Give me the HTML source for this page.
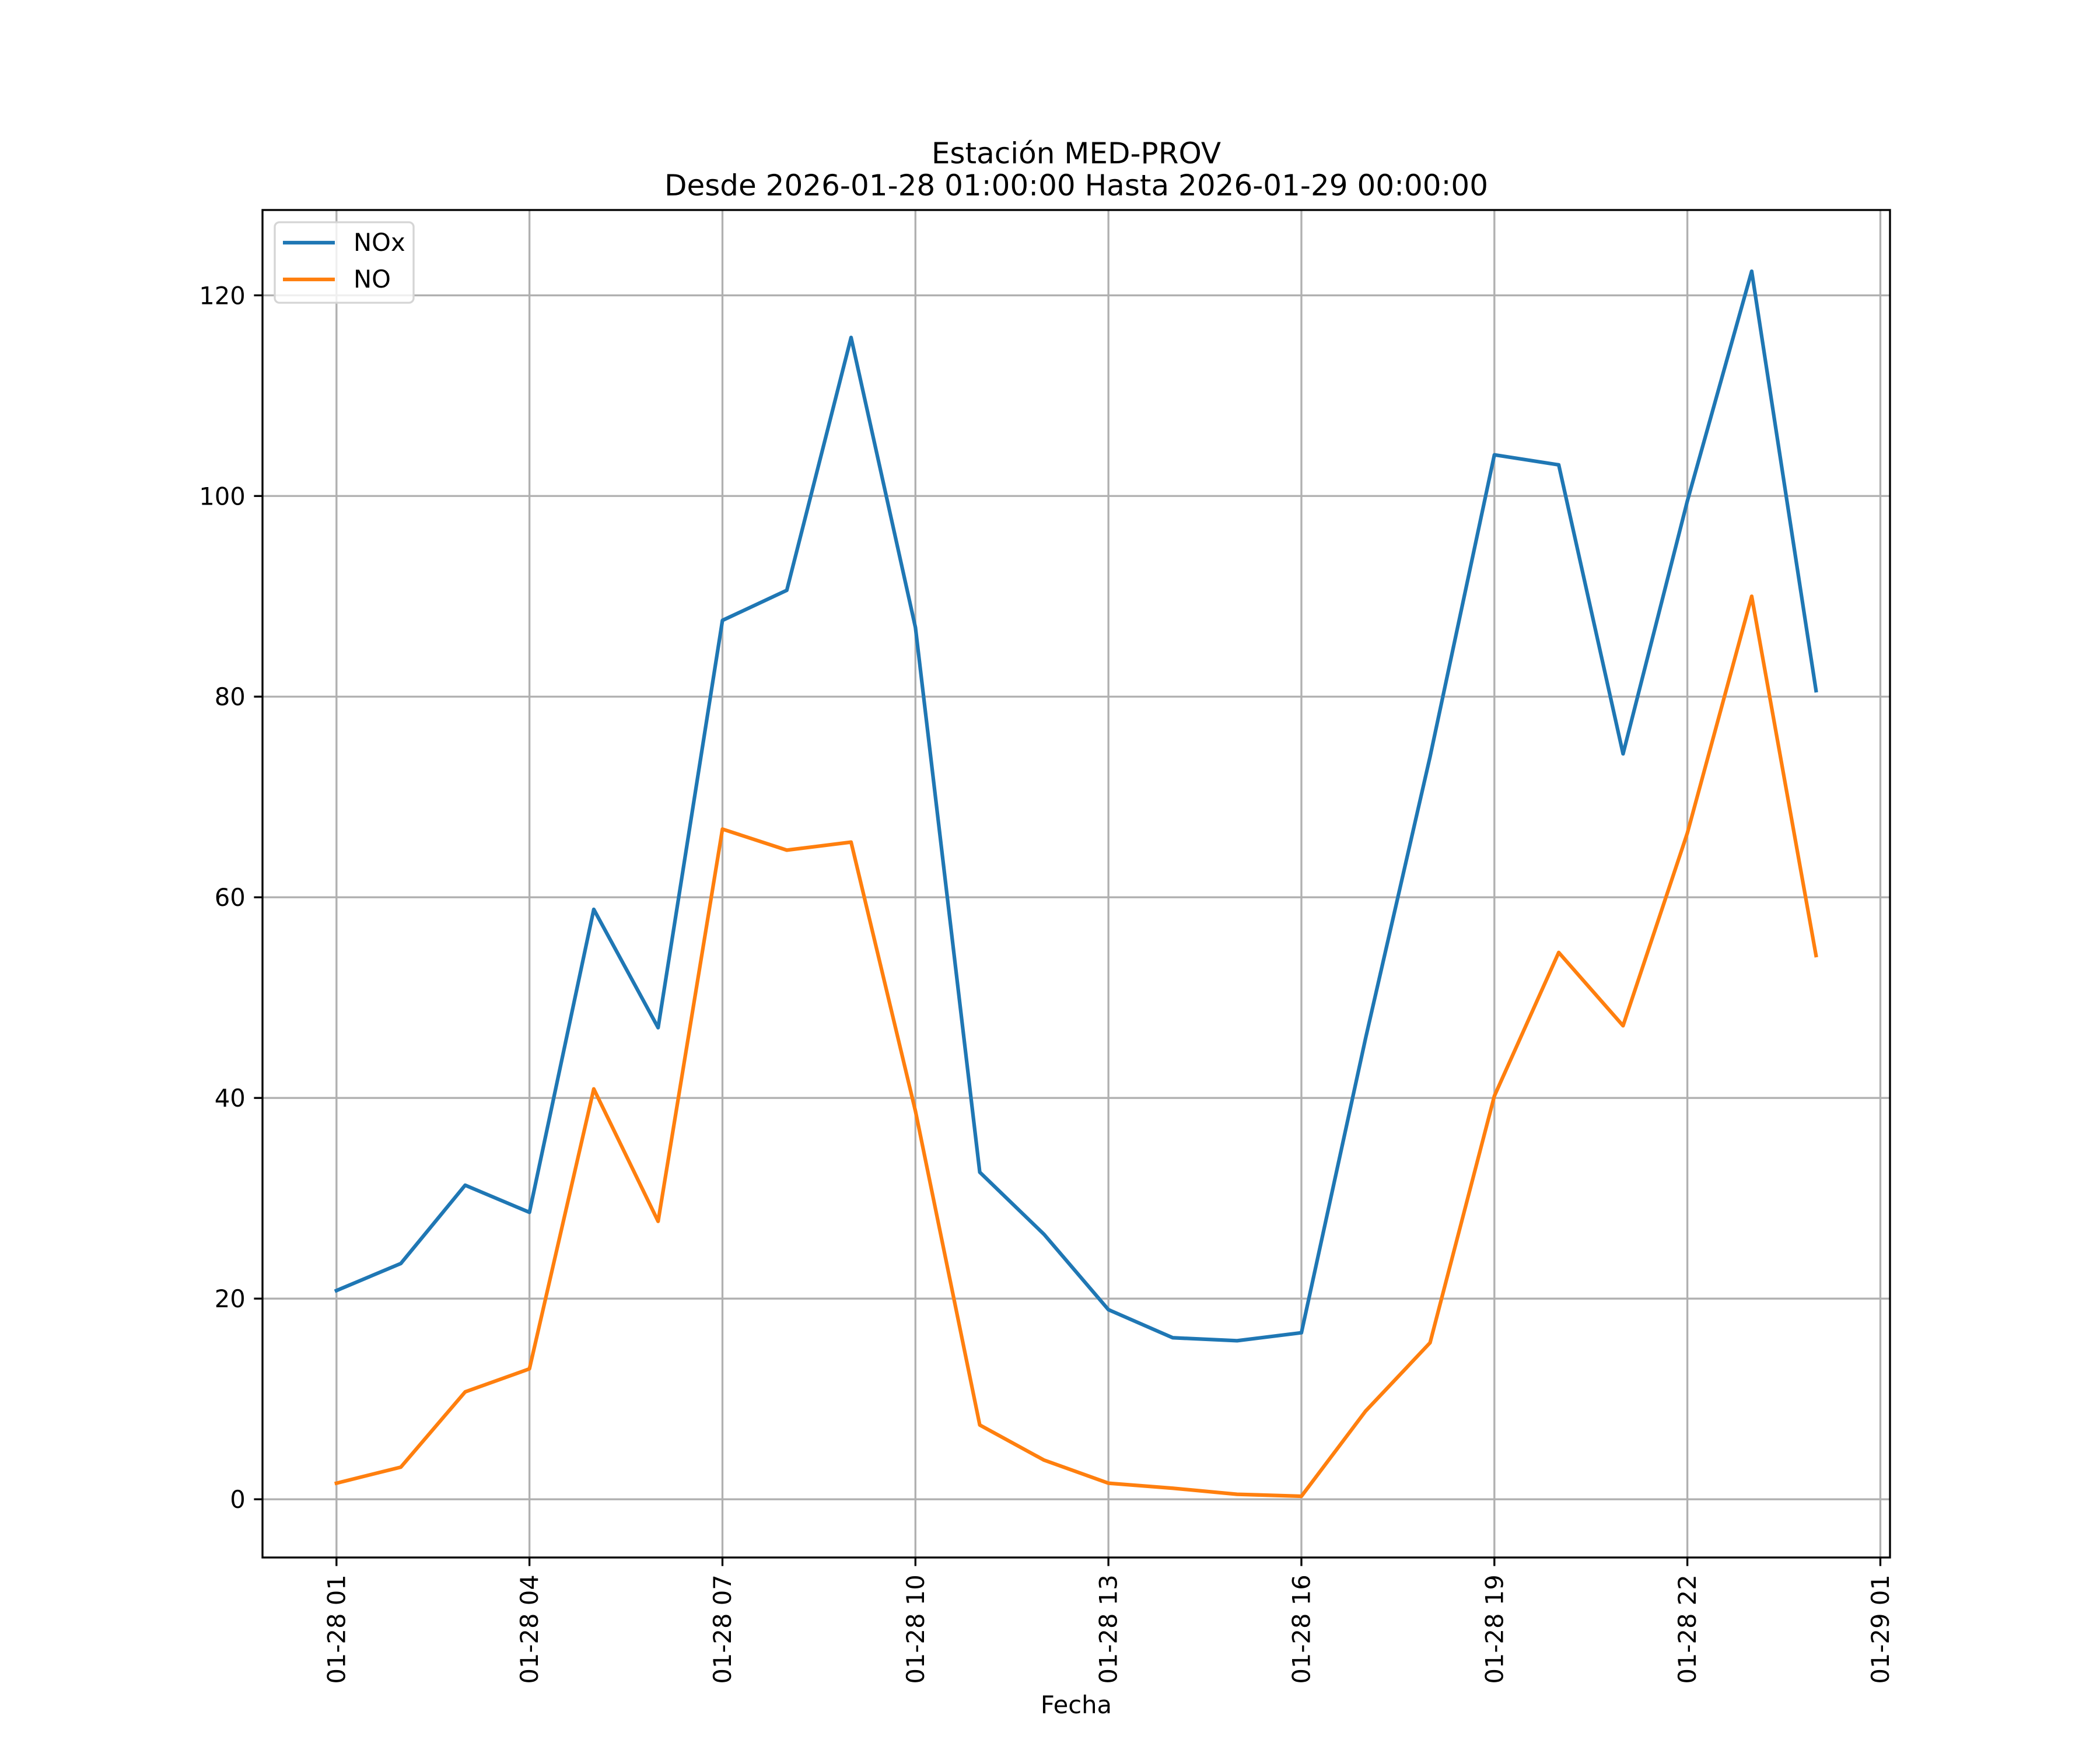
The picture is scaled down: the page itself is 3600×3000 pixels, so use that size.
<!DOCTYPE html>
<html><head><meta charset="utf-8"><style>html,body{margin:0;padding:0;background:#fff}svg{display:block}text{font-family:"DejaVu Sans","Liberation Sans",sans-serif}</style></head>
<body>
<svg id="chart" width="3600" height="3000" viewBox="0 0 3600 3000" xmlns="http://www.w3.org/2000/svg">
<rect width="3600" height="3000" fill="#fff"/>
<g id="grid"></g>
<g id="series"></g>
<rect x="450" y="360" width="2790" height="2310" fill="none" stroke="#000" stroke-width="3.33"/>
<g id="ticks"></g>
<text x="1845" y="280" font-size="50" text-anchor="middle">Estación MED-PROV</text>
<text x="1845" y="335" font-size="50" text-anchor="middle">Desde 2026-01-28 01:00:00 Hasta 2026-01-29 00:00:00</text>
<text x="1845" y="2937" font-size="41.7" text-anchor="middle">Fecha</text>
<g>
<rect x="471" y="381" width="238" height="138" rx="8" fill="#fff" fill-opacity="0.8" stroke="#d5d5d5" stroke-width="3.33"/>
<line x1="485" y1="416" x2="574" y2="416" stroke="#1f77b4" stroke-width="6.25"/>
<text x="606" y="430" font-size="41.7">NOx</text>
<line x1="485" y1="479" x2="574" y2="479" stroke="#ff7f0e" stroke-width="6.25"/>
<text x="606" y="493" font-size="41.7">NO</text>
</g>
</svg>
<script>
const hours = [0,1,2,3,4,5,6,7,8,9,10,11,12,13,14,15,16,17,18,19,20,21,22,23];
const noxValues = [20.8,23.5,31.3,28.6,58.8,47.0,87.6,90.6,115.8,86.9,32.6,26.4,18.9,16.1,15.8,16.6,46.0,74.0,104.1,103.1,74.3,99.5,122.4,80.6];
const noValues = [1.6,3.2,10.7,13.0,40.9,27.7,66.8,64.7,65.5,38.7,7.4,3.9,1.6,1.1,0.5,0.3,8.8,15.6,40.2,54.5,47.2,66.4,90.0,54.2];
const xTickHours = [0,3,6,9,12,15,18,21,24];
const xTickLabels = ["01-28 01","01-28 04","01-28 07","01-28 10","01-28 13","01-28 16","01-28 19","01-28 22","01-29 01"];
const yTicks = [0,20,40,60,80,100,120];

const NS="http://www.w3.org/2000/svg";
const L=450,R=3240,T=360,B=2670;
const all=noxValues.concat(noValues);
const ymin0=Math.min(...all), ymax0=Math.max(...all), ym=(ymax0-ymin0)*0.05;
const ymin=ymin0-ym, ymax=ymax0+ym;
const xmin0=Math.min(...hours), xmax0=Math.max(...hours), xm=(xmax0-xmin0)*0.05;
const xmin=xmin0-xm, xmax=xmax0+xm;
const xs=h=>L+(h-xmin)/(xmax-xmin)*(R-L);
const ys=v=>B-(v-ymin)/(ymax-ymin)*(B-T);
function mk(tag,attrs,parent){const e=document.createElementNS(NS,tag);for(const k in attrs)e.setAttribute(k,attrs[k]);parent.appendChild(e);return e;}
const grid=document.getElementById('grid'),ticks=document.getElementById('ticks'),series=document.getElementById('series');
xTickHours.forEach((h,i)=>{
  const x=xs(h);
  const g=mk('line',{x1:x,y1:T,x2:x,y2:B,stroke:'#b0b0b0','stroke-width':3.33},grid);
  
  
  const t=mk('line',{x1:x,y1:B,x2:x,y2:B+14.6,stroke:'#000','stroke-width':3.33},ticks);
  
  
  const tx=mk('text',{x:0,y:0,'font-size':41.7,'text-anchor':'end',transform:`translate(${x+14.5},${B+29.2}) rotate(-90)`},ticks);
  tx.textContent=xTickLabels[i];
  
  
});
yTicks.forEach(v=>{
  const y=ys(v);
  const g=mk('line',{x1:L,y1:y,x2:R,y2:y,stroke:'#b0b0b0','stroke-width':3.33},grid);
  
  
  const t=mk('line',{x1:L-14.6,y1:y,x2:L,y2:y,stroke:'#000','stroke-width':3.33},ticks);
  
  
  const tx=mk('text',{x:L-29.2,y:y+15,'font-size':41.7,'text-anchor':'end'},ticks);
  tx.textContent=String(v);
  
  
});
function line(vals,color,name){
  const pts=vals.map((v,i)=>xs(hours[i]).toFixed(1)+','+ys(v).toFixed(1)).join(' ');
  const p=mk('polyline',{points:pts,fill:'none',stroke:color,'stroke-width':6.25,'stroke-linejoin':'round','stroke-linecap':'square'},series);
  
  
}
line(noxValues,'#1f77b4','nox-line');
line(noValues,'#ff7f0e','no-line');
</script>
</body></html>
